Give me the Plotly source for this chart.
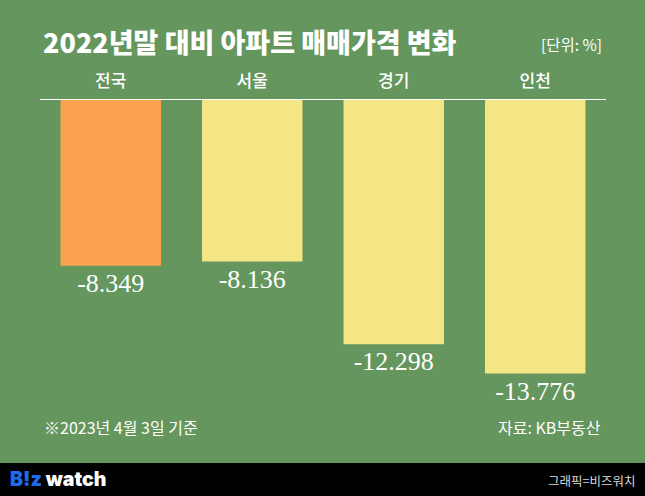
import plotly.graph_objects as go

categories = ["전국", "서울", "경기", "인천"]
values = [-8.349, -8.136, -12.298, -13.776]
bar_colors = ["#FBA24E", "#F4E685", "#F4E685", "#F4E685"]

BG = "#64965E"
W, H = 645, 496
L, R, T, B = 40, 39, 100, 96   # plot area: x 40..606, y 100..400
PH = H - T - B

def px_y(p):
    return (H - B - p) / PH

def px_x(p):
    return (p - L) / (W - L - R)

fig = go.Figure()
fig.add_trace(go.Bar(
    x=categories, y=values,
    marker=dict(color=bar_colors, line=dict(width=0)),
    width=0.71,
    text=[f"{v:.3f}" for v in values],
    textposition="outside",
    textfont=dict(family="Liberation Serif", size=26, color="white"),
    cliponaxis=False,
    hoverinfo="skip",
))

fig.update_layout(
    width=W, height=H,
    margin=dict(l=L, r=R, t=T, b=B, pad=0),
    paper_bgcolor=BG, plot_bgcolor=BG,
    showlegend=False,
    bargap=0.29,
    xaxis=dict(side="top", showline=True, linecolor="white", linewidth=1,
               ticks="", showgrid=False, zeroline=False,
               tickfont=dict(family="Noto Sans CJK KR", size=17, color="white", weight=500),
               ticklabelstandoff=5, fixedrange=True),
    yaxis=dict(range=[-15.11, 0], visible=False, showgrid=False,
               zeroline=False, fixedrange=True),
)

shapes = [dict(type="rect", xref="paper", yref="paper",
               x0=px_x(0), x1=px_x(W), y0=px_y(463), y1=px_y(H),
               fillcolor="black", line=dict(width=0), layer="above")]
fig.update_layout(shapes=shapes)

ann = [
    dict(text="2022년말 대비 아파트 매매가격 변화", x=px_x(41), y=px_y(42),
         xanchor="left", yanchor="middle",
         font=dict(family="Noto Sans CJK KR", size=27, color="white", weight=900)),
    dict(text="[단위: %]", x=px_x(604), y=px_y(44), xanchor="right", yanchor="middle",
         font=dict(family="Noto Sans CJK KR", size=15.5, color="white")),
    dict(text="※2023년 4월 3일 기준", x=px_x(42), y=px_y(427), xanchor="left",
         yanchor="middle", font=dict(family="Noto Sans CJK KR", size=16, color="white")),
    dict(text="자료: KB부동산", x=px_x(603), y=px_y(427), xanchor="right",
         yanchor="middle", font=dict(family="Noto Sans CJK KR", size=16, color="white")),
    dict(text="<span style='color:#1E6BF0'>B!z</span> watch", x=px_x(8), y=px_y(479),
         xanchor="left", yanchor="middle",
         font=dict(family="Inter", size=19.5, color="white", weight=900)),
    dict(text="그래픽=비즈워치", x=px_x(637), y=px_y(480), xanchor="right",
         yanchor="middle", font=dict(family="Noto Sans CJK KR", size=12.5, color="#DDDDDD")),
]
for a in ann:
    a.update(xref="paper", yref="paper", showarrow=False)
fig.update_layout(annotations=ann)

fig.write_html("out.html")
